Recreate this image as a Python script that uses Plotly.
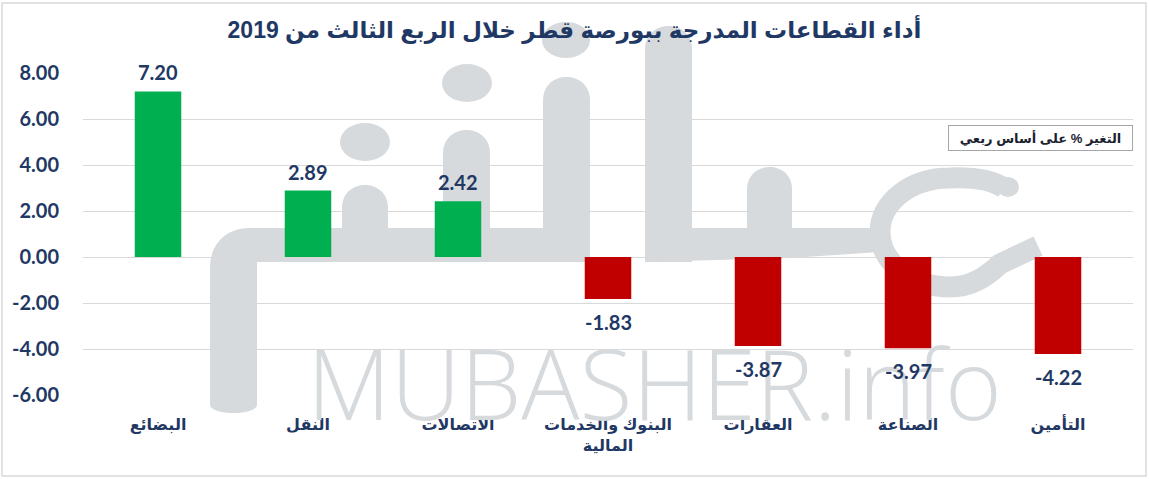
import plotly.graph_objects as go

categories = ["البضائع", "النقل", "الاتصالات", "البنوك والخدمات<br>المالية", "العقارات", "الصناعة", "التأمين"]
values = [7.20, 2.89, 2.42, -1.83, -3.87, -3.97, -4.22]
labels = ["7.20", "2.89", "2.42", "-1.83", "-3.87", "-3.97", "-4.22"]
y_ticks = [-6, -4, -2, 0, 2, 4, 6, 8]
y_tick_text = ["-6.00", "-4.00", "-2.00", "0.00", "2.00", "4.00", "6.00", "8.00"]
title_text = "أداء القطاعات المدرجة ببورصة قطر خلال الربع الثالث من 2019"
legend_text = "التغير % على أساس ربعي"
watermark_text = "MUBASHER.info"

NAVY = "#1F3864"
GREEN = "#00B050"
RED = "#C00000"
WM = "#D7DADD"
colors = [GREEN if v >= 0 else RED for v in values]

W, H = 1149, 479
L, R, T, B = 83, 16, 73, 84
pw = W - L - R
ph = H - T - B
Y0, Y1 = -6, 8


def px(x):
    return (x - L) / pw


def py(y):
    return (H - B - y) / ph


fig = go.Figure()

fig.add_trace(go.Bar(
    x=categories, y=values,
    marker=dict(color=colors, line=dict(width=0)),
    width=0.31, showlegend=False, hoverinfo="skip",
))

# watermark text (added first so the value labels are drawn over it)
fig.add_annotation(
    x=px(654), y=py(382), xref="paper", yref="paper", text=watermark_text,
    showarrow=False, xanchor="center", yanchor="middle",
    font=dict(family="Open Sans, Arial", size=97, color=WM, weight=300),
)

for c, v, t in zip(categories, values, labels):
    fig.add_annotation(
        x=c, y=v, xref="x", yref="y", text="<b>" + t + "</b>", showarrow=False,
        yanchor="middle", yshift=19 if v >= 0 else -23,
        font=dict(family="Lato, Open Sans, Arial", size=20, color=NAVY),
    )

fig.update_layout(
    width=W, height=H,
    margin=dict(l=L, r=R, t=T, b=B),
    paper_bgcolor="white", plot_bgcolor="rgba(0,0,0,0)",
    title=dict(text="<b>" + title_text + "</b>", x=0.5, xanchor="center",
               y=1 - 30 / H, yanchor="middle", yref="container",
               font=dict(family="Arial, DejaVu Sans", size=23, color=NAVY)),
    xaxis=dict(showgrid=False, showline=False, zeroline=False, ticks="",
               tickfont=dict(family="Arial, DejaVu Sans", size=16, color=NAVY, weight="bold"),
               ticklabelstandoff=18),
    yaxis=dict(range=[Y0, Y1], tickvals=y_ticks, ticktext=y_tick_text,
               showgrid=True, gridcolor="#D9D9D9", gridwidth=1,
               zeroline=True, zerolinecolor="#D9D9D9", zerolinewidth=1,
               showline=False, ticks="", ticklabelstandoff=23,
               tickfont=dict(family="Lato, Open Sans, Arial", size=20, color=NAVY, weight="bold")),
    font=dict(family="Arial, DejaVu Sans"),
)


# ---- watermark logo (decorative, drawn below gridlines) ----
def path(points_cmds):
    out = []
    for cmd, pts in points_cmds:
        coords = " ".join(f"{px(a):.5f},{py(b):.5f}" for a, b in pts)
        out.append(cmd + (" " + coords if coords else ""))
    return " ".join(out)


def add_fill_path(cmds):
    fig.add_shape(type="path", xref="paper", yref="paper", layer="below",
                  path=path(cmds), fillcolor=WM, line=dict(width=0))


def stroke(x0, x1, ytop, ybot):
    r = (x1 - x0) / 2
    add_fill_path([("M", [(x0, ybot)]), ("L", [(x0, ytop + r)]),
                   ("C", [(x0, ytop - r * 0.33), (x1, ytop - r * 0.33), (x1, ytop + r)]),
                   ("L", [(x1, ybot)]), ("Z", [])])


def dot(cx, cy, rx, ry):
    fig.add_shape(type="circle", xref="paper", yref="paper", layer="below",
                  x0=px(cx - rx), x1=px(cx + rx), y0=py(cy + ry), y1=py(cy - ry),
                  fillcolor=WM, line=dict(width=0))


# left hook + first baseline
add_fill_path([("M", [(210, 405)]), ("L", [(210, 268)]),
               ("C", [(210, 244), (226, 228), (250, 228)]),
               ("L", [(590, 228)]), ("L", [(590, 262)]), ("L", [(257, 262)]),
               ("L", [(257, 405)]), ("Z", [])])
dot(233.5, 405, 23.5, 8)
stroke(342, 388, 185, 230)
dot(365, 142, 25, 19)
stroke(443, 490, 130, 230)
dot(467, 83, 25, 19)
stroke(543, 590, 77, 262)
dot(566, 40, 24, 18)
# second part
stroke(645, 692, 26, 262)
add_fill_path([("M", [(645, 228)]), ("L", [(880, 228)]), ("L", [(880, 252)]),
               ("L", [(790, 258)]), ("L", [(645, 262)]), ("Z", [])])
stroke(747, 792, 167, 230)
fig.add_shape(type="path", xref="paper", yref="paper", layer="below",
              path=path([("M", [(1004, 188)]),
                         ("C", [(992, 180), (972, 177), (950, 178)]),
                         ("C", [(911, 178), (880, 202), (880, 232)]),
                         ("C", [(880, 262), (911, 287), (950, 287)]),
                         ("C", [(970, 287), (985, 278), (1000, 264)]),
                         ("L", [(1038, 246)])]),
              fillcolor="rgba(0,0,0,0)", line=dict(color=WM, width=21))
dot(1008, 187, 11, 10)

# legend box
fig.add_annotation(
    x=px(1040), y=py(138), xref="paper", yref="paper",
    text="<b>" + legend_text + "</b>", showarrow=False,
    font=dict(family="Arial, DejaVu Sans", size=13, color="#1B2230"),
    bordercolor="#A6A6A6", borderwidth=1, borderpad=4, bgcolor="white",
    width=175, xanchor="center", yanchor="middle",
)

# outer chart border
fig.add_shape(type="rect", xref="paper", yref="paper",
              x0=px(2), x1=px(1146), y0=py(476), y1=py(3),
              line=dict(color="#D9D9D9", width=1.5), fillcolor="rgba(0,0,0,0)")

fig.write_html("out.html", config={"displayModeBar": False},
               post_script="document.body.style.margin='0';document.body.style.overflow='hidden';")
